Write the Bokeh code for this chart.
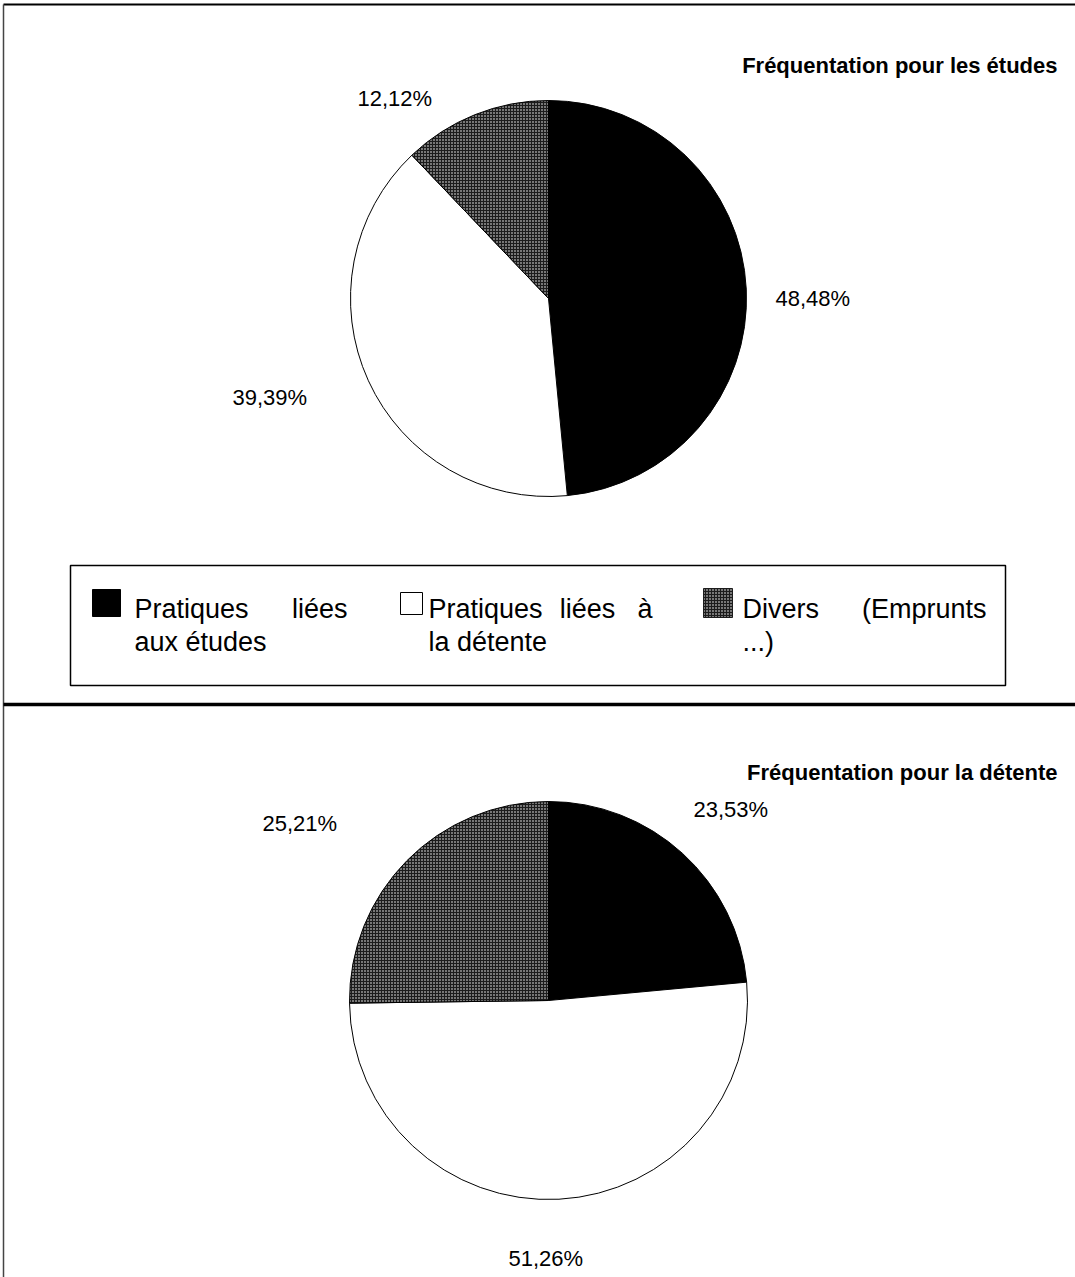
import math
from bokeh.plotting import figure
from bokeh.models import ColumnDataSource
from bokeh.core.properties import value
from bokeh.embed import file_html
from bokeh.resources import INLINE

# ---- data -----------------------------------------------------------------
categories = ["Pratiques liées aux études",
              "Pratiques liées à la détente",
              "Divers (Emprunts ...)"]
etudes_pct = [48.48, 39.39, 12.12]
detente_pct = [23.53, 51.26, 25.21]
titles = ["Fréquentation pour les études", "Fréquentation pour la détente"]

# legend wording, as wrapped on two lines (first line justified)
legend_lines = [(["Pratiques", "liées"], "aux études"),
                (["Pratiques", "liées", "à"], "la détente"),
                (["Divers", "(Emprunts"], "...)")]

# ---- styling ----------------------------------------------------------------
W, H = 1075, 1277
FONT = value("Liberation Sans")
GRAY = "#1c1c1c"
slice_fill = ["black", "white", GRAY]
slice_hatch = [" ", " ", "."]


def sy(y):
    """page y (top-down) -> plot y (bottom-up)"""
    return H - y


def fmt(v):
    return f"{v:.2f}%".replace(".", ",")


p = figure(width=W, height=H, x_range=(0, W), y_range=(0, H),
           output_backend="svg", toolbar_location=None,
           x_axis_type=None, y_axis_type=None, min_border=0)
p.grid.visible = False
p.outline_line_color = None
p.background_fill_color = "white"
p.border_fill_color = "white"

# ---- frame lines -------------------------------------------------------------
p.segment(x0=[3, 3, 3], y0=[sy(4), sy(4), sy(704)],
          x1=[W, 3, W], y1=[sy(4), sy(H), sy(704)],
          line_color=["black", "#444444", "black"],
          line_width=[2, 1.5, 3.5])


# ---- pies --------------------------------------------------------------------
def pie(cx, cy, r, pcts, label_pos):
    total = sum(pcts)
    starts, ends, cum = [], [], 0.0
    for v in pcts:
        starts.append(math.pi / 2 - 2 * math.pi * cum / total)
        cum += v
        ends.append(math.pi / 2 - 2 * math.pi * cum / total)
    src = ColumnDataSource(dict(x=[cx] * len(pcts), y=[sy(cy)] * len(pcts),
                                start=starts, end=ends,
                                fill=slice_fill, hatch=slice_hatch))
    p.wedge(x="x", y="y", radius=r, radius_units="screen",
            start_angle="start", end_angle="end", direction="clock",
            fill_color="fill", hatch_pattern="hatch", hatch_color="white",
            hatch_scale=3, hatch_weight=1, line_color="black",
            line_width=1, source=src)
    lab = ColumnDataSource(dict(x=[q[0] for q in label_pos],
                                y=[sy(q[1]) for q in label_pos],
                                t=[fmt(v) for v in pcts]))
    p.text(x="x", y="y", text="t", source=lab, text_font=FONT,
           text_font_size="22px", text_color="black",
           text_align="left", text_baseline="alphabetic")


# label anchor points (left edge, baseline) per slice
pie(548, 298, 198, etudes_pct, [(775, 298), (232, 397), (357, 98)])
pie(548, 1000, 199, detente_pct, [(693, 809), (508, 1258), (262, 823)])

# ---- titles ------------------------------------------------------------------
p.text(x=[1057, 1057], y=[sy(65), sy(772)], text=titles, text_font=FONT,
       text_font_size="22px", text_font_style="bold", text_color="black",
       text_align="right", text_baseline="alphabetic")

# ---- legend ------------------------------------------------------------------
p.quad(left=[70], right=[1005], top=[sy(565)], bottom=[sy(685)],
       fill_color=None, line_color="black", line_width=1.5)

# swatches
p.quad(left=[92], right=[120], top=[sy(589)], bottom=[sy(616)],
       fill_color="black", line_color="black", line_width=1)
p.quad(left=[400], right=[422], top=[sy(592)], bottom=[sy(614)],
       fill_color="white", line_color="black", line_width=1)
p.quad(left=[703], right=[732], top=[sy(588)], bottom=[sy(617)],
       fill_color=GRAY, hatch_pattern=".", hatch_color="white",
       hatch_scale=3, hatch_weight=1, line_color=GRAY, line_width=1)

col_span = [(134, 347), (428, 652), (742, 986)]
mid_word_x = {1: 587}
L1, L2 = sy(608), sy(641)
lx, ly, lt, la = [], [], [], []
for i, (first, second) in enumerate(legend_lines):
    x0, x1 = col_span[i]
    lx.append(x0); ly.append(L1); lt.append(first[0]); la.append("left")
    if len(first) == 3:
        lx.append(mid_word_x[i]); ly.append(L1); lt.append(first[1]); la.append("center")
    lx.append(x1); ly.append(L1); lt.append(first[-1]); la.append("right")
    lx.append(x0); ly.append(L2); lt.append(second); la.append("left")

leg = ColumnDataSource(dict(x=lx, y=ly, t=lt, a=la))
p.text(x="x", y="y", text="t", text_align="a", source=leg, text_font=FONT,
       text_font_size="27px", text_color="black", text_baseline="alphabetic")

open("out.html", "w").write(file_html(p, INLINE))
